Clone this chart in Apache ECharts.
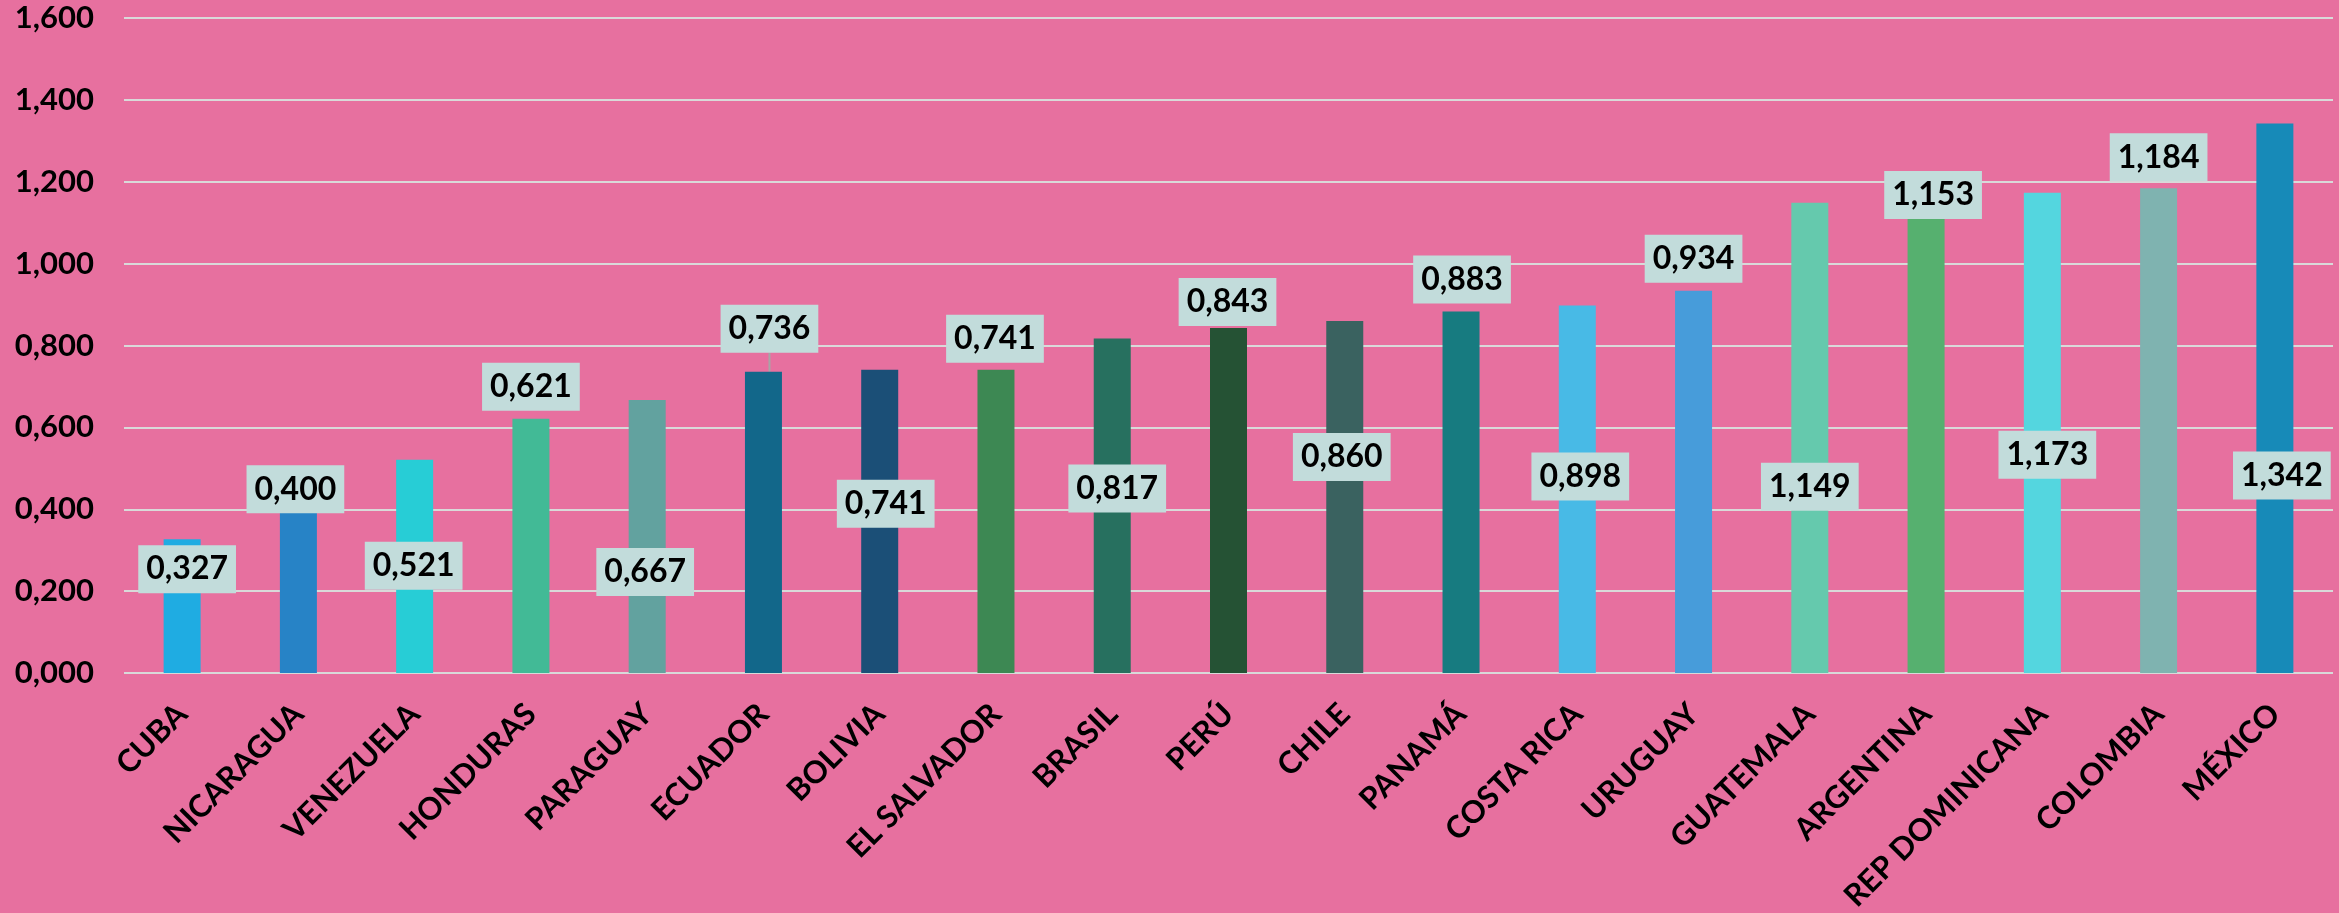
<!DOCTYPE html>
<html>
<head>
<meta charset="utf-8">
<script src="https://cdn.jsdelivr.net/npm/echarts@6/dist/echarts.min.js"></script>
<style>
  html, body { margin: 0; padding: 0; background: #E7709F; }
  #chart { width: 2339px; height: 913px; }
</style>
</head>
<body>
<div id="chart"></div>
<script>
const categories = ['CUBA', 'NICARAGUA', 'VENEZUELA', 'HONDURAS', 'PARAGUAY', 'ECUADOR', 'BOLIVIA', 'EL SALVADOR', 'BRASIL', 'PERÚ', 'CHILE', 'PANAMÁ', 'COSTA RICA', 'URUGUAY', 'GUATEMALA', 'ARGENTINA', 'REP DOMINICANA', 'COLOMBIA', 'MÉXICO'];
const values = [0.327, 0.400, 0.521, 0.621, 0.667, 0.736, 0.741, 0.741, 0.817, 0.843, 0.860, 0.883, 0.898, 0.934, 1.149, 1.153, 1.173, 1.184, 1.342];
const yTicks = { min: 0, max: 1.6, interval: 0.2 };

// style: bar colours and manual data-label placement (pixels relative to bar top / bar centre)
const barColors = ['#1FACE2', '#2783C6', '#27CDD6', '#42BA96', '#62A29F', '#12678A', '#1B4F77', '#3D8853', '#27705F', '#255234', '#3A6260', '#177B80', '#48BAE6', '#479CDA', '#65C9AD', '#56B06F', '#54D6DF', '#7FB3B0', '#178AB8'];
const labelDy = [30, -20, 106, -32, 172, -43, 134, -31, 150, -26, 136, -32, 171, -32, 284, -6, 262, -31, 352];
const labelDx = [5, -3, -1, 0, -2, 6, 6, -1, 5, -1, -3, 1, 3, 0, 0, 7, 5, 0, 7];
const leaderIndex = 5;

const fmt = v => Number(v).toFixed(3).replace('.', ',');
const FONT = 'Lato';

const chart = echarts.init(document.getElementById('chart'), null, { renderer: 'canvas' });

const data = values.map((v, i) => {
  const item = { value: v, itemStyle: { color: barColors[i] } };
  if (i === leaderIndex) {
    item.labelLine = { show: true, lineStyle: { color: '#A6A6A6', width: 2 } };
  }
  return item;
});

chart.setOption({
  backgroundColor: '#E7709F',
  animation: false,
  grid: { left: 124, right: 6, top: 18, bottom: 240, containLabel: false, outerBoundsMode: 'none' },
  xAxis: {
    type: 'category',
    data: categories,
    axisLine: { show: false },
    axisTick: { show: false },
    axisLabel: {
      rotate: 45,
      interval: 0,
      margin: 36,
      color: '#000',
      fontFamily: FONT,
      fontWeight: 'bold',
      fontSize: 31
    }
  },
  yAxis: {
    type: 'value',
    min: yTicks.min,
    max: yTicks.max,
    interval: yTicks.interval,
    axisLine: { show: false },
    axisTick: { show: false },
    splitLine: { lineStyle: { color: '#D9D9D9', width: 2 } },
    axisLabel: {
      margin: 30,
      color: '#000',
      fontFamily: FONT,
      fontWeight: 'bold',
      fontSize: 31,
      formatter: fmt
    }
  },
  series: [{
    type: 'bar',
    data: data,
    barWidth: 37,
    label: {
      show: true,
      position: 'top',
      formatter: p => fmt(p.value),
      color: '#000',
      fontFamily: FONT,
      fontWeight: 'bold',
      fontSize: 32,
      lineHeight: 34,
      backgroundColor: '#C2DCDB',
      padding: [7, 8, 7, 8]
    },
    labelLine: { show: false },
    labelLayout: function (params) {
      const r = params.rect;
      const top = Math.min(r.y, r.y + r.height);
      const cx = r.x + r.width / 2;
      const i = params.dataIndex;
      return {
        x: cx + labelDx[i],
        y: top + labelDy[i],
        align: 'center',
        verticalAlign: 'middle'
      };
    }
  }]
});
</script>
</body>
</html>
